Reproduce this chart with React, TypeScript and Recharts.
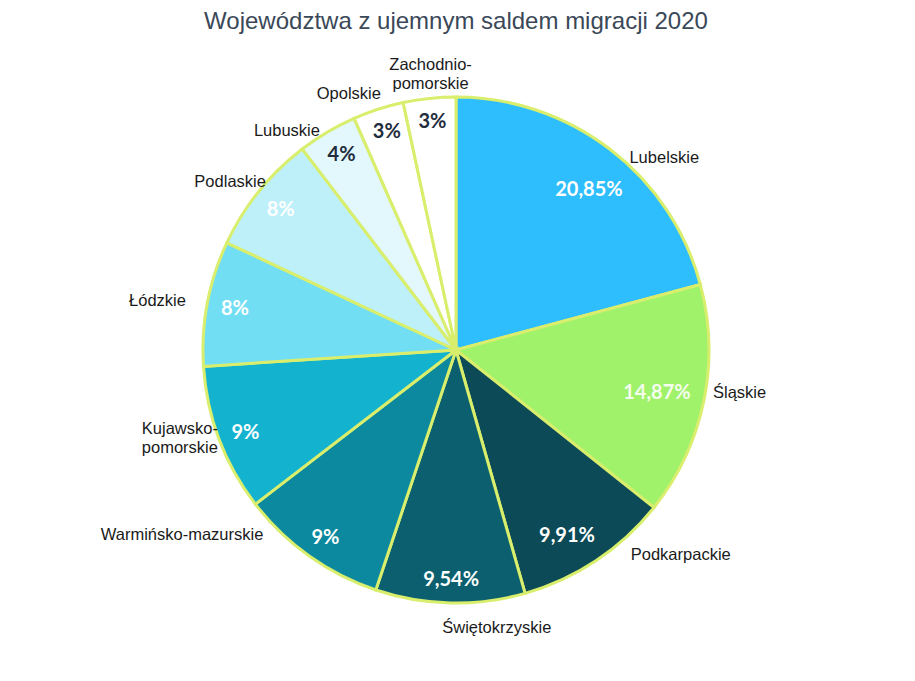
import React from 'react'
import { PieChart, Pie, Cell } from 'recharts'

// Województwa z ujemnym saldem migracji 2020 (udział, %)
const regions = [
  'Lubelskie',
  'Śląskie',
  'Podkarpackie',
  'Świętokrzyskie',
  'Warmińsko-mazurskie',
  'Kujawsko-\npomorskie',
  'Łódzkie',
  'Podlaskie',
  'Lubuskie',
  'Opolskie',
  'Zachodnio-\npomorskie',
]
const shares = [20.85, 14.87, 9.91, 9.54, 9.45, 9.4, 8.0, 7.65, 3.8, 3.25, 3.35]
const shareLabels = ['20,85%', '14,87%', '9,91%', '9,54%', '9%', '9%', '8%', '8%', '4%', '3%', '3%']

const sliceColors = [
  '#2ebdfd', '#a0f26a', '#0b4a56', '#0b5f6f', '#0c899e', '#13b3d0',
  '#72def4', '#bdf0f9', '#e2f8fc', '#ffffff', '#ffffff',
]
const valueInk = [
  '#ffffff', '#f4fdee', '#ffffff', '#ffffff', '#ffffff', '#ffffff',
  '#ffffff', '#ffffff', '#1f2d3d', '#1f2d3d', '#1f2d3d',
]
// hand placed label offsets (px), like the moved labels in the original
const nameNudge = [
  [30, 19], [5, -12], [54, -19], [48, 10], [-77, -34], [1, -10],
  [-17, 0], [3, -1], [-21, 10], [-18, -2], [6, -1],
]
const valueNudge = [[8, 21], [0, -6], [-6, -8], [0, -3], [0, -2], [0, 0], [0, 0], [0, 3], [0, 2], [0, 0], [0, 0]]

const data = regions.map((name, i) => ({ name, value: shares[i] }))

const RAD = Math.PI / 180
const NAME_FONT = '16.5px "Liberation Sans"'
const VALUE_FONT = 'bold 20px Lato'

let ctx: CanvasRenderingContext2D | null = null
const textWidth = (t: string, font: string) => {
  if (!ctx) ctx = document.createElement('canvas').getContext('2d')
  if (!ctx) return t.length * 8
  ctx.font = font
  return ctx.measureText(t).width
}

const renderLabels = (props: any) => {
  const { cx, cy, midAngle, outerRadius, index } = props
  const s = Math.cos(midAngle * RAD)
  const c = Math.sin(midAngle * RAD)

  // value inside the slice, near the rim
  const vHalfW = textWidth(shareLabels[index], VALUE_FONT) / 2
  const rIn = outerRadius - 14
  const vx = cx + rIn * s - vHalfW * s + valueNudge[index][0]
  const vy = cy - rIn * c + 8 * c + valueNudge[index][1]

  // region name outside
  const lines = regions[index].split('\n')
  const nHalfW = Math.max(...lines.map((l) => textWidth(l, NAME_FONT))) / 2
  const nHalfH = (lines.length * 19) / 2
  const rOut = outerRadius + 5
  const nx = cx + rOut * s + nHalfW * s + nameNudge[index][0]
  const ny = cy - rOut * c - nHalfH * c + nameNudge[index][1]

  return (
    <g>
      <text
        x={vx}
        y={vy}
        textAnchor="middle"
        dominantBaseline="central"
        fill={valueInk[index]}
        style={{ font: VALUE_FONT }}
      >
        {shareLabels[index]}
      </text>
      {lines.map((l, k) => (
        <text
          key={k}
          x={nx}
          y={ny + (k - (lines.length - 1) / 2) * 19}
          textAnchor="middle"
          dominantBaseline="central"
          fill="#1a1a1a"
          style={{ font: NAME_FONT }}
        >
          {l}
        </text>
      ))}
    </g>
  )
}

export default function App() {
  return (
    <div style={{ position: 'relative', width: 899, height: 665, background: '#fff' }}>
      <div
        style={{
          position: 'absolute',
          top: -1,
          left: 0,
          width: 896,
          textAlign: 'center',
          fontFamily: '"Liberation Sans", Arial, sans-serif',
          fontSize: 24,
          lineHeight: '28px',
          color: '#3a4858',
        }}
      >
        Województwa z ujemnym saldem migracji 2020
      </div>
      <PieChart width={899} height={665} margin={{ top: 0, right: 0, bottom: 0, left: 0 }}>
        <Pie
          data={data}
          dataKey="value"
          nameKey="name"
          cx={448}
          cy={342}
          outerRadius={253}
          startAngle={90}
          endAngle={-270}
          stroke="#d8ee6c"
          strokeWidth={3}
          label={renderLabels}
          labelLine={false}
          isAnimationActive={false}
        >
          {data.map((d, i) => (
            <Cell key={d.name} fill={sliceColors[i]} />
          ))}
        </Pie>
      </PieChart>
    </div>
  )
}
